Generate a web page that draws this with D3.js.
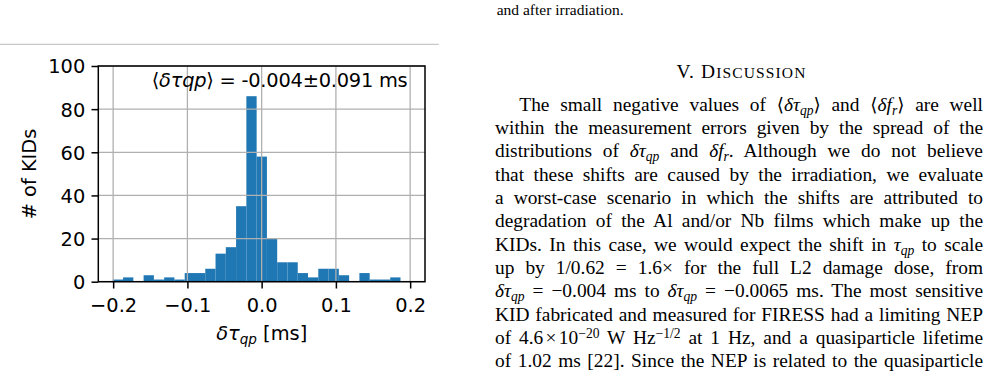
<!DOCTYPE html>
<html><head><meta charset="utf-8">
<script src="https://cdn.jsdelivr.net/npm/d3@7"></script>
<style>
html,body{margin:0;padding:0;background:#fff;}
body{width:1006px;height:384px;overflow:hidden;position:relative;}
svg{position:absolute;left:0;top:0;}
.ln{position:absolute;white-space:nowrap;font-family:"Liberation Serif","Times New Roman",serif;font-size:19.4px;line-height:23.3px;color:#000;}
.ln i{font-style:italic;}
.ln .sb{font-size:0.7em;position:relative;top:0.28em;line-height:0;font-style:italic;}
.ln .sp{font-size:0.7em;position:relative;top:-0.45em;line-height:0;}
.ln .op{margin:0 0.26em;}
.ln .ab{font-family:"DejaVu Serif","Liberation Serif",serif;font-size:0.95em;}
</style></head><body>
<svg id="chart" width="1006" height="384"></svg>
<div id="page"></div>
<script>
// ---------------- data ----------------
const counts = [1,2,0,3,1,2,1,4,4,6,13,16,35,86,58,20,9,9,4,2,6,6,3,0,4,1,1,2];
const binRange = [-0.2005, 0.187];
const xTicks = [-0.2,-0.1,0.0,0.1,0.2];
const yTicks = [0,20,40,60,80,100];
const xDomain = [-0.22, 0.22];
const yDomain = [0, 100];
const yLabel = "# of KIDs";
const meanText = ["⟨", "δτqp", "⟩ = -0.004±0.091 ms"];
const caption = "and after irradiation.";
const heading = ["V. D", "ISCUSSION"];
const bodyLines = [
  'The small negative values of <span class="ab">⟨</span><i>δτ</i><span class="sb">qp</span><span class="ab">⟩</span> and <span class="ab">⟨</span><i>δf</i><span class="sb">r</span><span class="ab">⟩</span> are well',
  'within the measurement errors given by the spread of the',
  'distributions of <i>δτ</i><span class="sb">qp</span> and <i>δf</i><span class="sb">r</span>. Although we do not believe',
  'that these shifts are caused by the irradiation, we evaluate',
  'a worst-case scenario in which the shifts are attributed to',
  'degradation of the Al and/or Nb films which make up the',
  'KIDs. In this case, we would expect the shift in <i>τ</i><span class="sb">qp</span> to scale',
  'up by 1/0.62 = 1.6× for the full L2 damage dose, from',
  '<i>δτ</i><span class="sb">qp</span> = −0.004 ms to <i>δτ</i><span class="sb">qp</span> = −0.0065 ms. The most sensitive',
  'KID fabricated and measured for FIRESS had a limiting NEP',
  'of 4.6<span class="op" style="margin:0 0.12em">×</span>10<span class="sp">−20</span> W Hz<span class="sp">−1/2</span> at 1 Hz, and a quasiparticle lifetime',
  'of 1.02 ms [22]. Since the NEP is related to the quasiparticle'
];

// ---------------- chart ----------------
const svg = d3.select("#chart");
const F = "'DejaVu Sans', sans-serif";
const FS = 19.4;
const plot = {left: 98.3, right: 425, top: 66, bottom: 281.7};

// rule line at top-left
svg.append("line").attr("x1", 0).attr("x2", 438.7).attr("y1", 44.3).attr("y2", 44.3)
  .attr("stroke", "#c8c8c8").attr("stroke-width", 1.2);

const x = d3.scaleLinear().domain(xDomain).range([plot.left, plot.right]);
const y = d3.scaleLinear().domain(yDomain).range([plot.bottom, plot.top]);

const binW = (binRange[1] - binRange[0]) / counts.length;
const bins = counts.map((c, i) => ({x0: binRange[0] + i * binW, x1: binRange[0] + (i + 1) * binW, c}));

svg.append("g").selectAll("rect").data(bins.filter(d => d.c > 0)).join("rect")
  .attr("x", d => x(d.x0)).attr("width", d => x(d.x1) - x(d.x0))
  .attr("y", d => y(d.c)).attr("height", d => y(0) - y(d.c))
  .attr("fill", "#1f77b4");

// grid (above bars, like matplotlib)
const grid = svg.append("g").attr("stroke", "#b0b0b0").attr("stroke-width", 1.3);
grid.selectAll(".gx").data(xTicks).join("line")
  .attr("x1", d => x(d)).attr("x2", d => x(d)).attr("y1", plot.top).attr("y2", plot.bottom);
grid.selectAll(".gy").data(yTicks).join("line")
  .attr("y1", d => y(d)).attr("y2", d => y(d)).attr("x1", plot.left).attr("x2", plot.right);

// axes
const xAxis = svg.append("g").attr("transform", `translate(0,${plot.bottom})`)
  .call(d3.axisBottom(x).tickValues(xTicks).tickFormat(d3.format(".1f")).tickSize(6.8).tickSizeOuter(0).tickPadding(6.8));
const yAxis = svg.append("g").attr("transform", `translate(${plot.left},0)`)
  .call(d3.axisLeft(y).tickValues(yTicks).tickFormat(d3.format("d")).tickSize(6.8).tickSizeOuter(0).tickPadding(6.2));
[xAxis, yAxis].forEach(g => {
  g.select(".domain").remove();
  g.selectAll(".tick line").attr("stroke", "#000").attr("stroke-width", 1.5);
  g.selectAll(".tick text").attr("fill", "#000").attr("font-family", F).attr("font-size", FS);
});
xAxis.selectAll(".tick text").attr("dy", null).attr("y", 29.9);
yAxis.selectAll(".tick text").attr("dy", "0.36em");

// frame
svg.append("rect").attr("x", plot.left).attr("y", plot.top)
  .attr("width", plot.right - plot.left).attr("height", plot.bottom - plot.top)
  .attr("fill", "none").attr("stroke", "#000").attr("stroke-width", 1.5);

// annotation
const ann = svg.append("text").attr("x", 151.7).attr("y", 87).attr("text-anchor", "start")
  .attr("font-family", F).attr("font-size", FS).attr("fill", "#000")
  .attr("textLength", 256).attr("lengthAdjust", "spacing");
ann.append("tspan").text(meanText[0]);
ann.append("tspan").attr("font-style", "italic").text(meanText[1]);
ann.append("tspan").text(meanText[2]);

// y label
svg.append("text").attr("transform", "translate(36,174) rotate(-90)").attr("text-anchor", "middle")
  .attr("font-family", F).attr("font-size", FS).attr("fill", "#000").text(yLabel);

// x label
const xl = svg.append("text").attr("x", 261.7).attr("y", 340).attr("text-anchor", "middle")
  .attr("font-family", F).attr("font-size", FS).attr("fill", "#000");
xl.append("tspan").attr("font-style", "italic").text("δτ");
xl.append("tspan").attr("font-style", "italic").attr("font-size", FS * 0.7).attr("dy", 4).text("qp");
xl.append("tspan").attr("dy", -4).text(" [ms]");

// ---------------- text column ----------------
const page = d3.select("#page");
function placeLine(html, left, width, baseline, fontSize, mode, center) {
  const div = page.append("div").attr("class", "ln").style("left", left + "px")
    .style("font-size", fontSize + "px").style("top", "0px");
  const inner = div.append("span").html(html);
  const probe = div.append("span").style("display", "inline-block").style("width", "0px").style("height", "0px");
  const dTop = div.node().getBoundingClientRect().top;
  const bOff = probe.node().getBoundingClientRect().bottom - dTop;
  div.style("top", (baseline - bOff) + "px");
  let w = inner.node().getBoundingClientRect().width;
  if (mode === "justify") {
    const nSpaces = (inner.node().textContent.match(/ /g) || []).length;
    if (nSpaces > 0) inner.style("word-spacing", ((width - w) / nSpaces) + "px");
  } else if (mode === "spread") {
    const nChars = inner.node().textContent.length;
    inner.style("letter-spacing", ((width - w) / nChars) + "px");
    w = inner.node().getBoundingClientRect().width;
  }
  if (center !== undefined) div.style("left", (center - w / 2) + "px");
  return div;
}
const colL = 495, colR = 983, lead = 23.33, firstBase = 110.8;
placeLine(caption, 496.7, 0, 14.6, 15.5, null);
placeLine(`${heading[0]}<span style="font-size:0.8em">${heading[1]}</span>`, 0, 130, 78.3, 19.4, "spread", 741.5);
bodyLines.forEach((h, i) => {
  const left = i === 0 ? 519.3 : colL;
  placeLine(h, left, colR - left, firstBase + i * lead, 19.4, "justify");
});
</script>
</body></html>
